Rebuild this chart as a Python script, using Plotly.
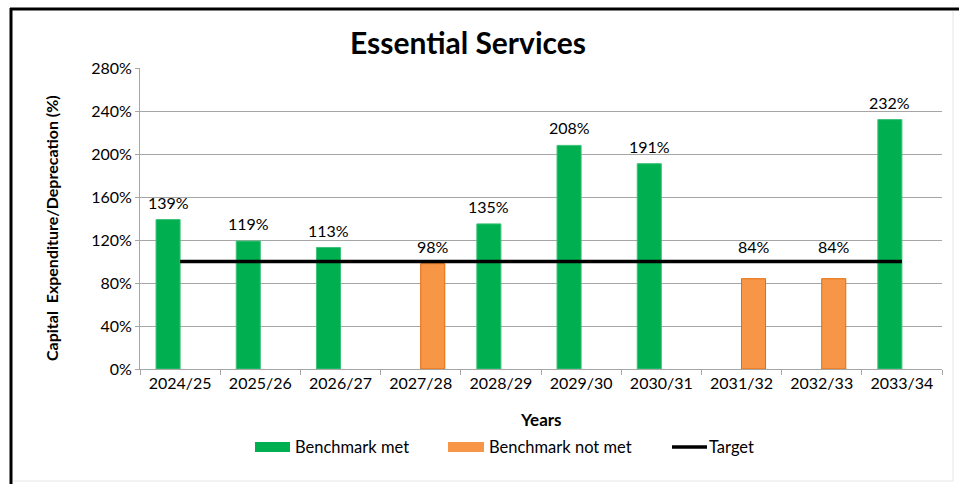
import plotly.graph_objects as go

# Capital expenditure as a share of depreciation, by financial year
years = ["2024/25", "2025/26", "2026/27", "2027/28", "2028/29",
         "2029/30", "2030/31", "2031/32", "2032/33", "2033/34"]
benchmark_met = [139, 119, 113, None, 135, 208, 191, None, None, 232]
benchmark_not_met = [None, None, None, 98, None, None, None, 84, 84, None]
target = [100, 100, 100, 100, 100, 100, 100, 100, 100, 100]

GREEN = "#00B050"
ORANGE = "#F79646"
ORANGE_EDGE = "#E46C0A"
GRID = "#A6A6A6"
FONT = "Lato"

fig = go.Figure()
fig.add_trace(go.Bar(
    x=years, y=benchmark_met, name="Benchmark met",
    marker=dict(color=GREEN, line=dict(color="#3CC276", width=1)),
    showlegend=False,
))
fig.add_trace(go.Bar(
    x=years, y=benchmark_not_met, name="Benchmark not met",
    marker=dict(color=ORANGE, line=dict(color=ORANGE_EDGE, width=1)),
    showlegend=False,
))
fig.add_trace(go.Scatter(
    x=years, y=target, name="Target", mode="lines",
    line=dict(color="#000000", width=3.5), showlegend=False,
))

# pixel -> paper helpers for the fixed 959x484 canvas
L, R, T, B = 140, 942, 68, 369


def px(x):
    return (x - L) / (R - L)


def py(y):
    return (B - y) / (B - T)


shapes = [
    # chart frame
    dict(type="line", xref="paper", yref="paper", x0=px(11), x1=px(11), y0=py(8), y1=py(484),
         line=dict(color="#000000", width=3)),
    dict(type="line", xref="paper", yref="paper", x0=px(10), x1=px(959), y0=py(9), y1=py(9),
         line=dict(color="#000000", width=3)),
    dict(type="line", xref="paper", yref="paper", x0=px(953), x1=px(953), y0=py(11), y1=py(481),
         line=dict(color="#E6E6E6", width=1)),
    dict(type="line", xref="paper", yref="paper", x0=px(13), x1=px(953), y0=py(481), y1=py(481),
         line=dict(color="#E6E6E6", width=1)),
    # legend keys
    dict(type="rect", xref="paper", yref="paper", x0=px(255), x1=px(290), y0=py(452), y1=py(442),
         fillcolor=GREEN, line=dict(width=0)),
    dict(type="rect", xref="paper", yref="paper", x0=px(448), x1=px(484), y0=py(452), y1=py(442),
         fillcolor=ORANGE, line=dict(width=0)),
    dict(type="line", xref="paper", yref="paper", x0=px(672), x1=px(707), y0=py(447), y1=py(447),
         line=dict(color="#000000", width=3.5)),
]

annotations = [
    dict(text="<b>Essential Services</b>", xref="paper", yref="paper",
         x=px(468), y=py(42), xanchor="center", yanchor="middle", showarrow=False,
         font=dict(size=30, color="#000000", family=FONT)),
    dict(text="<b>Capital  Expenditure/Deprecation (%)</b>", xref="paper", yref="paper",
         x=px(52), y=py(228), xanchor="center", yanchor="middle", textangle=-90,
         showarrow=False, font=dict(size=16, color="#000000", family=FONT)),
    dict(text="<b>Years</b>", xref="paper", yref="paper",
         x=px(541), y=py(419), xanchor="center", yanchor="middle", showarrow=False,
         font=dict(size=17, color="#000000", family=FONT)),
    dict(text="Benchmark met", xref="paper", yref="paper",
         x=px(293), y=py(447), xanchor="left", yanchor="middle", showarrow=False,
         font=dict(size=16.5, color="#000000", family=FONT)),
    dict(text="Benchmark not met", xref="paper", yref="paper",
         x=px(487), y=py(447), xanchor="left", yanchor="middle", showarrow=False,
         font=dict(size=16.5, color="#000000", family=FONT)),
    dict(text="Target", xref="paper", yref="paper",
         x=px(707), y=py(447), xanchor="left", yanchor="middle", showarrow=False,
         font=dict(size=16.5, color="#000000", family=FONT)),
]

# value labels above each bar, shifted onto the bar's slot within the group;
# labels of bars below the target sit just above the target line
for vals, shift in ((benchmark_met, -12), (benchmark_not_met, 12)):
    for yr, v, t in zip(years, vals, target):
        if v is None:
            continue
        below = v < t
        annotations.append(dict(
            x=yr, y=t if below else v, text=f"{v}%", xref="x", yref="y",
            xanchor="center", yanchor="bottom", xshift=shift,
            yshift=4 if below else 6,
            showarrow=False, font=dict(size=16, color="#000000", family=FONT),
        ))

fig.update_layout(
    width=959, height=484,
    margin=dict(l=L, r=959 - R, t=T, b=484 - B, autoexpand=False),
    paper_bgcolor="#FFFFFF", plot_bgcolor="#FFFFFF",
    barmode="group", bargap=0.40, bargroupgap=0.0,
    font=dict(family=FONT, size=16, color="#000000"),
    shapes=shapes, annotations=annotations,
    showlegend=False,
)
fig.update_xaxes(
    type="category", showgrid=False, showline=True, linecolor=GRID, linewidth=1,
    ticks="outside", tickson="boundaries", ticklen=5, tickcolor=GRID,
    tickfont=dict(size=16, family=FONT, color="#000000"),
)
fig.update_yaxes(
    range=[0, 280], dtick=40, ticksuffix="%",
    showgrid=True, gridcolor=GRID, gridwidth=1,
    showline=True, linecolor=GRID, linewidth=1,
    ticks="outside", ticklen=4, tickcolor=GRID,
    tickfont=dict(size=16, family=FONT, color="#000000"),
    zeroline=False,
)

fig.write_html("out.html")
